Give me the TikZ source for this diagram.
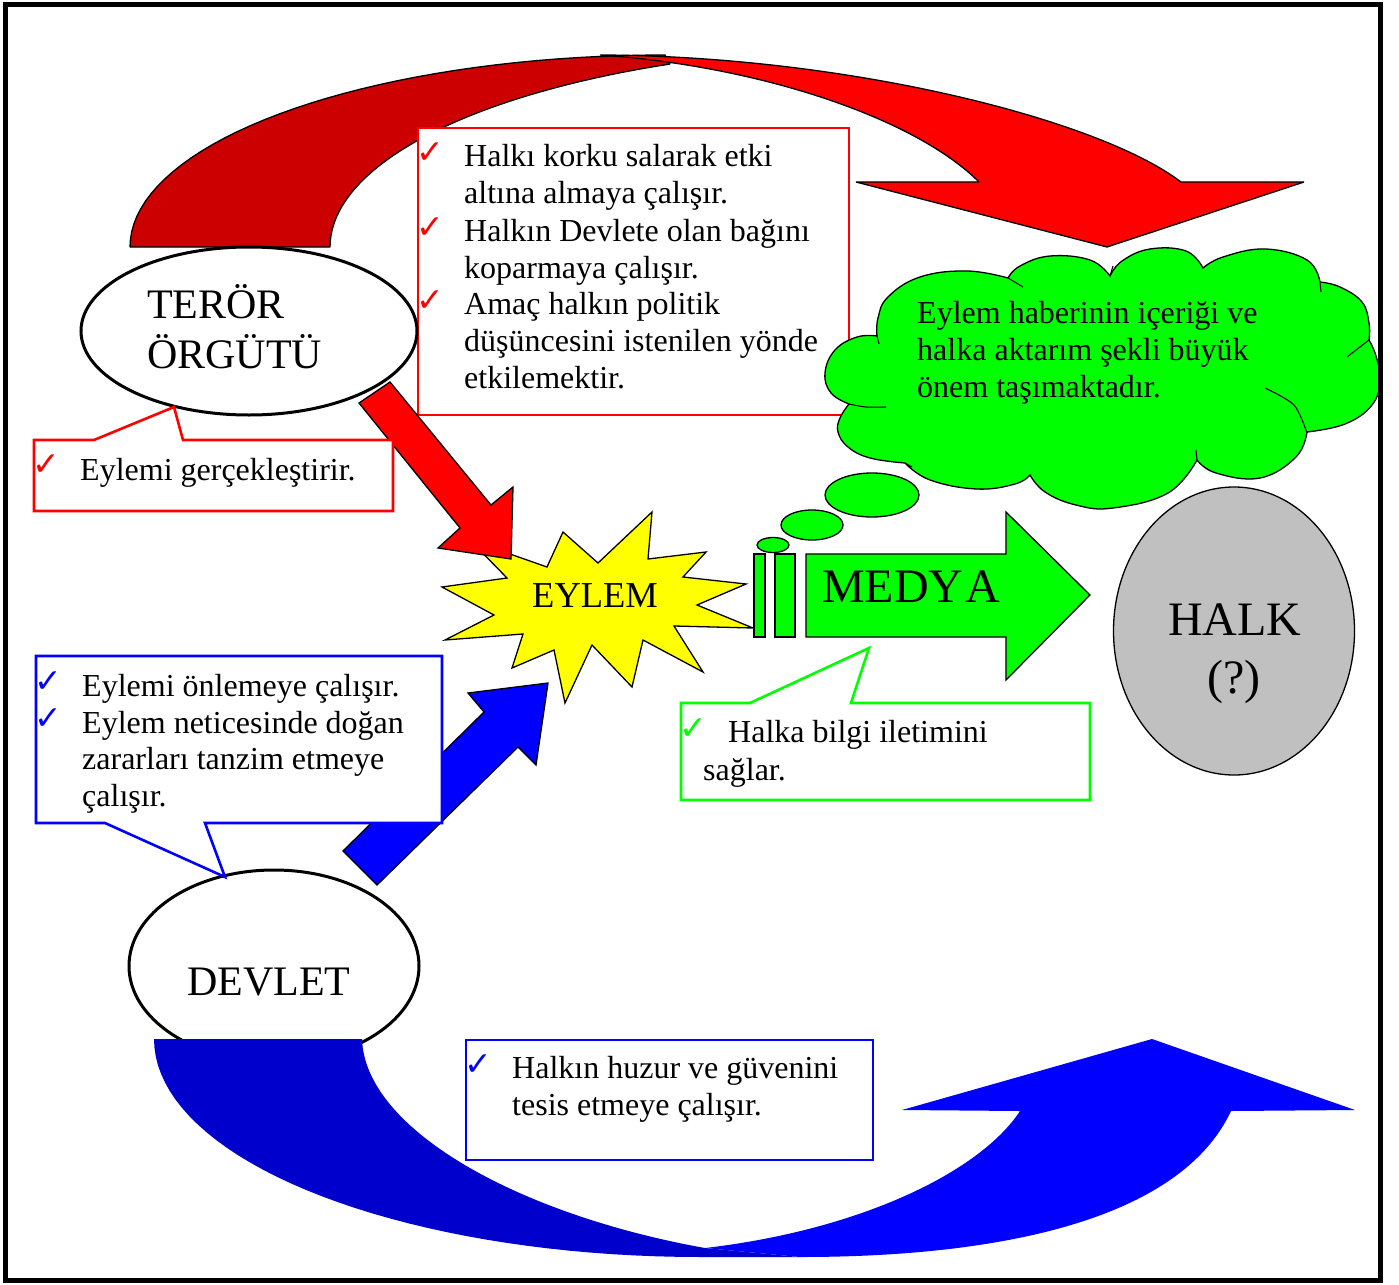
\documentclass[tikz,border=0pt]{standalone}
\usepackage{fontspec}
\setmainfont{Liberation Serif}
\newfontfamily\dvfont{DejaVu Sans}
\usetikzlibrary{shapes.geometric}
\definecolor{dred}{HTML}{CC0000}
\definecolor{bred}{HTML}{FF0000}
\definecolor{dblue}{HTML}{0000CC}
\definecolor{bblue}{HTML}{0000FF}
\definecolor{grn}{HTML}{00FF00}
\definecolor{yel}{HTML}{FFFF00}
\definecolor{hgray}{HTML}{C0C0C0}
\begin{document}
\begin{tikzpicture}[x=1pt,y=-1pt,
  txt/.style={inner sep=0pt, anchor=base west, font=\fontsize{32}{37}\selectfont},
  bigtxt/.style={inner sep=0pt, anchor=base west, font=\fontsize{42}{50}\selectfont},
  chk/.style={inner sep=0pt, font=\dvfont\fontsize{33}{33}\selectfont},
  shp/.style={draw=black, line width=1.3pt, line join=miter},
  curvy/.style={draw=black, line width=1.3pt, line join=bevel},
  thin/.style={draw=black, line width=1.1pt},
  redbox/.style={draw=bred, fill=white, line width=2.6pt, line join=miter},
  bluebox/.style={draw=bblue, fill=white, line width=2.6pt, line join=miter},
  greenbox/.style={draw=grn, fill=white, line width=2.6pt, line join=miter},
  oval/.style={ellipse, draw=black, fill=white, line width=3pt, inner sep=0pt},
]
\useasboundingbox (0,0) rectangle (1399,1284);
\fill[white] (0,0) rectangle (1399,1284);

% ---------- top curved arrow ----------
\draw[curvy, fill=dred]
  plot[domain=180:270, samples=40] ({665+535*cos(\x)},{247+192*sin(\x)})
  -- plot[domain=246.2:180, samples=40] ({900+570*cos(\x)},{247+200*sin(\x)}) -- cycle;
\draw[curvy, fill=bred] (600,55) .. controls (850,56) and (1100,120) .. (1181,182)
  -- (1304,182) -- (1107,247) -- (856,182) -- (979,182)
  .. controls (915,118) and (760,66) .. (600,55) -- cycle;

% ---------- big red box ----------
\draw[redbox] (418,128) rectangle (849,415);
\node[chk, text=bred] (rc1) at (430,153) {✓};
\node[chk, text=bred] (rc2) at (430,228) {✓};
\node[chk, text=bred] (rc3) at (430,301) {✓};
\node[txt] (r1) at (464,167) {Halkı korku salarak etki};
\node[txt] (r2) at (464,204) {altına almaya çalışır.};
\node[txt] (r3) at (464,241) {Halkın Devlete olan bağını};
\node[txt] (r4) at (464,278) {koparmaya çalışır.};
\node[txt] (r5) at (464,314) {Amaç halkın politik};
\node[txt] (r6) at (464,351) {düşüncesini istenilen yönde};
\node[txt] (r7) at (464,388) {etkilemektir.};

% ---------- EYLEM star ----------
\draw[shp, fill=yel] (470,540) -- (547,567) -- (563,532) -- (598,563) -- (652,512) -- (648,559)
  -- (706,552) -- (683,577) -- (746,584) -- (697,605) -- (753,628) -- (674,626) -- (703,672)
  -- (643,640) -- (632,687) -- (592,645) -- (565,703) -- (554,650) -- (512,668) -- (523,634)
  -- (445,640) -- (494,615) -- (442,587) -- (507,578) -- cycle;
\node[inner sep=0pt, anchor=base west, font=\fontsize{36.5}{40}\selectfont] (eylem) at (532,607) {EYLEM};

% ---------- red straight arrow ----------
\draw[shp, fill=bred] (359,403) -- (460,528) -- (438,548) -- (511,559) -- (513,487) -- (491,505) -- (390,382) -- cycle;

% ---------- TEROR ORGUTU ----------
\node[oval, minimum width=336pt, minimum height=168pt] (teror) at (249,331) {};
\node[bigtxt] (t1) at (147,318) {TERÖR};
\node[bigtxt] (t2) at (147,368) {ÖRGÜTÜ};

% red callout
\draw[redbox] (34,440) -- (94,440) -- (174,407) -- (183,440) -- (393,440) -- (393,511) -- (34,511) -- cycle;
\node[chk, text=bred] (ec) at (46,465) {✓};
\node[txt] (e1) at (80,480) {Eylemi gerçekleştirir.};

% ---------- blue straight arrow ----------
\draw[shp, fill=bblue] (343,851) -- (484,712) -- (468,693) -- (548,683) -- (536,765) -- (518,747) -- (377,885) -- cycle;

% ---------- DEVLET ----------
\node[oval, minimum width=290pt, minimum height=192pt] (devlet) at (274,966) {};
\node[bigtxt] (d1) at (187,995) {DEVLET};

% blue callout
\draw[bluebox] (36,656) -- (442,656) -- (442,823) -- (205,823) -- (225,877) -- (105,823) -- (36,823) -- cycle;
\node[chk, text=bblue] (bc1) at (48,682) {✓};
\node[chk, text=bblue] (bc2) at (48,719) {✓};
\node[txt] (b1) at (82,696) {Eylemi önlemeye çalışır.};
\node[txt] (b2) at (82,733) {Eylem neticesinde doğan};
\node[txt] (b3) at (82,769) {zararları tanzim etmeye};
\node[txt] (b4) at (82,806) {çalışır.};

% ---------- bottom curved arrow ----------
\fill[dblue] (154,1039) -- (362,1039)
  .. controls (365,1130) and (520,1215) .. (705,1248) -- (800,1257)
  -- plot[domain=90:180, samples=40] ({700+546*cos(\x)},{1039+218*sin(\x)}) -- cycle;
\fill[bblue] (705,1248) .. controls (860,1230) and (980,1172) .. (1020,1111)
  -- (902,1110) -- (1152,1039) -- (1355,1110) -- (1231,1111)
  .. controls (1180,1220) and (1000,1257) .. (800,1257) -- cycle;

% bottom blue box
\draw[bluebox] (466,1040) rectangle (873,1160);
\node[chk, text=bblue] (hc) at (478,1065) {✓};
\node[txt] (h1) at (512,1078) {Halkın huzur ve güvenini};
\node[txt] (h2) at (512,1115) {tesis etmeye çalışır.};

% ---------- MEDYA ----------
\draw[shp, fill=grn] (754,554) rectangle (765,637);
\draw[shp, fill=grn] (775,554) rectangle (795,637);
\draw[shp, fill=grn] (806,554) -- (1006,554) -- (1006,512) -- (1090,595) -- (1006,680) -- (1006,637) -- (806,637) -- cycle;
\node[inner sep=0pt, anchor=base west, font=\fontsize{48}{52}\selectfont] (medya) at (822,602) {MEDY\kern2pt A};

% green callout
\draw[greenbox] (681,703) -- (750,703) -- (869,648) -- (851,703) -- (1090,703) -- (1090,800) -- (681,800) -- cycle;
\node[chk, text=grn] (gc) at (693,729) {✓};
\node[txt] (g1) at (728,742) {Halka bilgi iletimini};
\node[txt] (g2) at (703,780) {sağlar.};

% ---------- thought bubbles ----------
\draw[shp, fill=grn] (773,545) ellipse [x radius=16, y radius=7.5];
\draw[shp, fill=grn] (812,525) ellipse [x radius=31, y radius=15];
\draw[shp, fill=grn] (872,495) ellipse [x radius=47, y radius=22];

% ---------- cloud ----------
\draw[shp, fill=grn]
  plot[smooth, tension=0.7] coordinates {(877,336) (857,337) (835,350) (825,373) (831,393) (849,404)}
  -- plot[smooth, tension=0.7] coordinates {(849,404) (840,418) (838,432) (848,447) (870,458) (905,463)}
  -- plot[smooth, tension=0.7] coordinates {(905,463) (930,480) (977,489) (1015,484) (1030,475)}
  -- plot[smooth, tension=0.7] coordinates {(1030,475) (1045,492) (1076,505) (1113,508) (1168,493) (1197,460)}
  -- plot[smooth, tension=0.7] coordinates {(1197,460) (1216,473) (1260,478) (1296,457) (1307,432)}
  -- plot[smooth, tension=0.7] coordinates {(1307,432) (1345,424) (1372,405) (1380,380) (1376,356) (1369,340)}
  -- plot[smooth, tension=0.7] coordinates {(1369,340) (1369,323) (1362,302) (1340,287) (1320,282)}
  -- plot[smooth, tension=0.7] coordinates {(1320,282) (1307,260) (1265,249) (1223,257) (1203,268)}
  -- plot[smooth, tension=0.7] coordinates {(1203,268) (1186,251) (1150,249) (1122,261) (1110,276)}
  -- plot[smooth, tension=0.7] coordinates {(1110,276) (1090,260) (1050,256) (1020,266) (1008,278)}
  -- plot[smooth, tension=0.7] coordinates {(1008,278) (967,271) (920,277) (888,297) (878,318) (877,336)}
  -- cycle;
% inner strokes of the cloud
\draw[thin] plot[smooth] coordinates {(849,404) (866,407) (886,407)};
\draw[thin] plot[smooth] coordinates {(1265,388) (1294,405) (1307,433)};
\draw[thin] (1347,357) -- (1369,340);
\draw[thin] (1008,278) -- (1023,287);
\draw[thin] (1110,276) -- (1113,266);
\draw[thin] (1320,282) -- (1321,292);
\draw[thin] (877,336) -- (879,344);
\draw[thin] (905,463) -- (912,467);
\draw[thin] (1197,460) -- (1196,450);
\node[txt] (c1) at (917,323) {Eylem haberinin içeriği ve};
\node[txt] (c2) at (917,360) {halka aktarım şekli büyük};
\node[txt] (c3) at (917,397) {önem taşımaktadır.};

% ---------- HALK ----------
\node[ellipse, draw=black, fill=hgray, line width=1.3pt, minimum width=241pt, minimum height=288pt, inner sep=0pt] (halk) at (1234,631) {};
\node[inner sep=0pt, anchor=base west, font=\fontsize{48}{52}\selectfont] (hk1) at (1168,635) {HALK};
\node[inner sep=0pt, anchor=base, font=\fontsize{48}{52}\selectfont] (hk2) at (1234,693) {(?)};

% ---------- frame ----------
\draw[line width=5pt, line join=miter] (5,5) rectangle (1380,1280);
\end{tikzpicture}
\end{document}
